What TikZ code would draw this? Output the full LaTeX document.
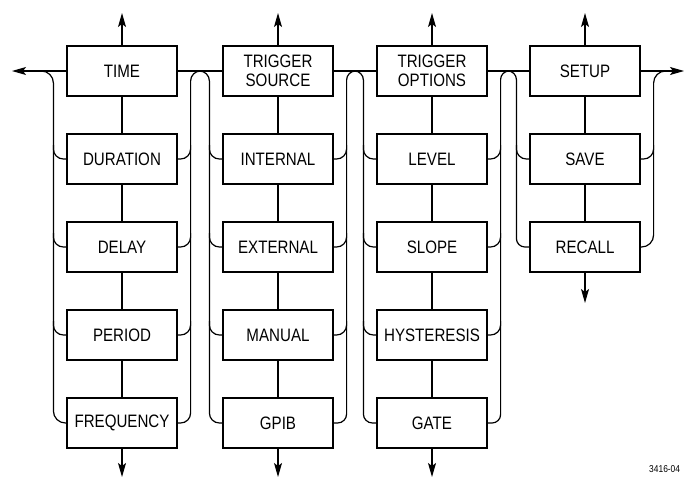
\documentclass[tikz,border=0pt]{standalone}
\usepackage{fontspec}
\setmainfont[FakeStretch=0.84]{Liberation Sans}
\usetikzlibrary{arrows.meta}
\tikzset{
  menubox/.style={draw, minimum width=110pt, minimum height=50pt, inner sep=0pt,
    align=center, font=\fontsize{18}{19}\selectfont},
  tip/.style={-{Stealth[length=14pt,width=8pt,inset=3pt]}}
}
\begin{document}
\begin{tikzpicture}[x=1pt,y=-1pt,line width=1.2pt]
\useasboundingbox (0,0) rectangle (685,479);

\node[menubox] (time) at (122,71) {TIME};
\node[menubox] (tsrc) at (278,71) {TRIGGER\\SOURCE};
\node[menubox] (topt) at (432,71) {TRIGGER\\OPTIONS};
\node[menubox] (setup) at (585,71) {SETUP};
\foreach \n/\t [count=\i] in {dur/DURATION,dly/DELAY,per/PERIOD,freq/FREQUENCY}
  \node[menubox] (\n) at (122,71+88*\i) {\t};
\foreach \n/\t [count=\i] in {int/INTERNAL,ext/EXTERNAL,man/MANUAL,gpib/GPIB}
  \node[menubox] (\n) at (278,71+88*\i) {\t};
\foreach \n/\t [count=\i] in {lev/LEVEL,slp/SLOPE,hys/HYSTERESIS,gate/GATE}
  \node[menubox] (\n) at (432,71+88*\i) {\t};
\foreach \n/\t [count=\i] in {save/SAVE,recall/RECALL}
  \node[menubox] (\n) at (585,71+88*\i) {\t};

\coordinate (lend) at (12,71);
\coordinate (rend) at (684,71);
\coordinate (up1) at (122,13);
\coordinate (up2) at (278,13);
\coordinate (up3) at (432,13);
\coordinate (up4) at (585,13);
\coordinate (dn1) at (122,477);
\coordinate (dn2) at (278,477);
\coordinate (dn3) at (432,477);
\coordinate (dn4) at (585,303);

% main line
\draw[tip] (time.west) -- (lend);
\draw (time.east) -- (tsrc.west);
\draw (tsrc.east) -- (topt.west);
\draw (topt.east) -- (setup.west);
\draw[tip] (setup.east) -- (rend);

% columns
\foreach \a/\b in {time/dur,dur/dly,dly/per,per/freq,tsrc/int,int/ext,ext/man,man/gpib,
  topt/lev,lev/slp,slp/hys,hys/gate,setup/save,save/recall}
  \draw (\a) -- (\b);
\foreach \a/\b in {time/up1,tsrc/up2,topt/up3,setup/up4,freq/dn1,gpib/dn2,gate/dn3,recall/dn4}
  \draw[tip] (\a) -- (\b);

% side rails
\draw[rounded corners=12pt] (freq.west) -| ([xshift=-13pt]time.west) -- ([xshift=-25pt]time.west);
\draw[rounded corners=10pt] (freq.east) -| ([xshift=13pt]time.east) -- ([xshift=-13pt]tsrc.west) |- (gpib.west);
\draw[rounded corners=9pt] (gpib.east) -| ([xshift=13pt]tsrc.east) -- ([xshift=-13pt]topt.west) |- (gate.west);
\draw[rounded corners=8.5pt] (gate.east) -| ([xshift=13pt]topt.east) -- ([xshift=-13pt]setup.west) |- (recall.west);
\draw[rounded corners=12pt] (recall.east) -| ([xshift=13pt]setup.east) -- ([xshift=25pt]setup.east);
\foreach \n in {dur,dly,per,int,ext,man,lev,slp,hys,save}
{
\draw[rounded corners=10pt] (\n.west) -| ([shift={(-13pt,14pt)}]\n.west);
\draw[rounded corners=10pt] (\n.east) -| ([shift={(13pt,14pt)}]\n.east);
}

\node[anchor=east, font=\fontsize{10}{10}\selectfont] (fignum) at (684,469) {3416-04};
\end{tikzpicture}
\end{document}
